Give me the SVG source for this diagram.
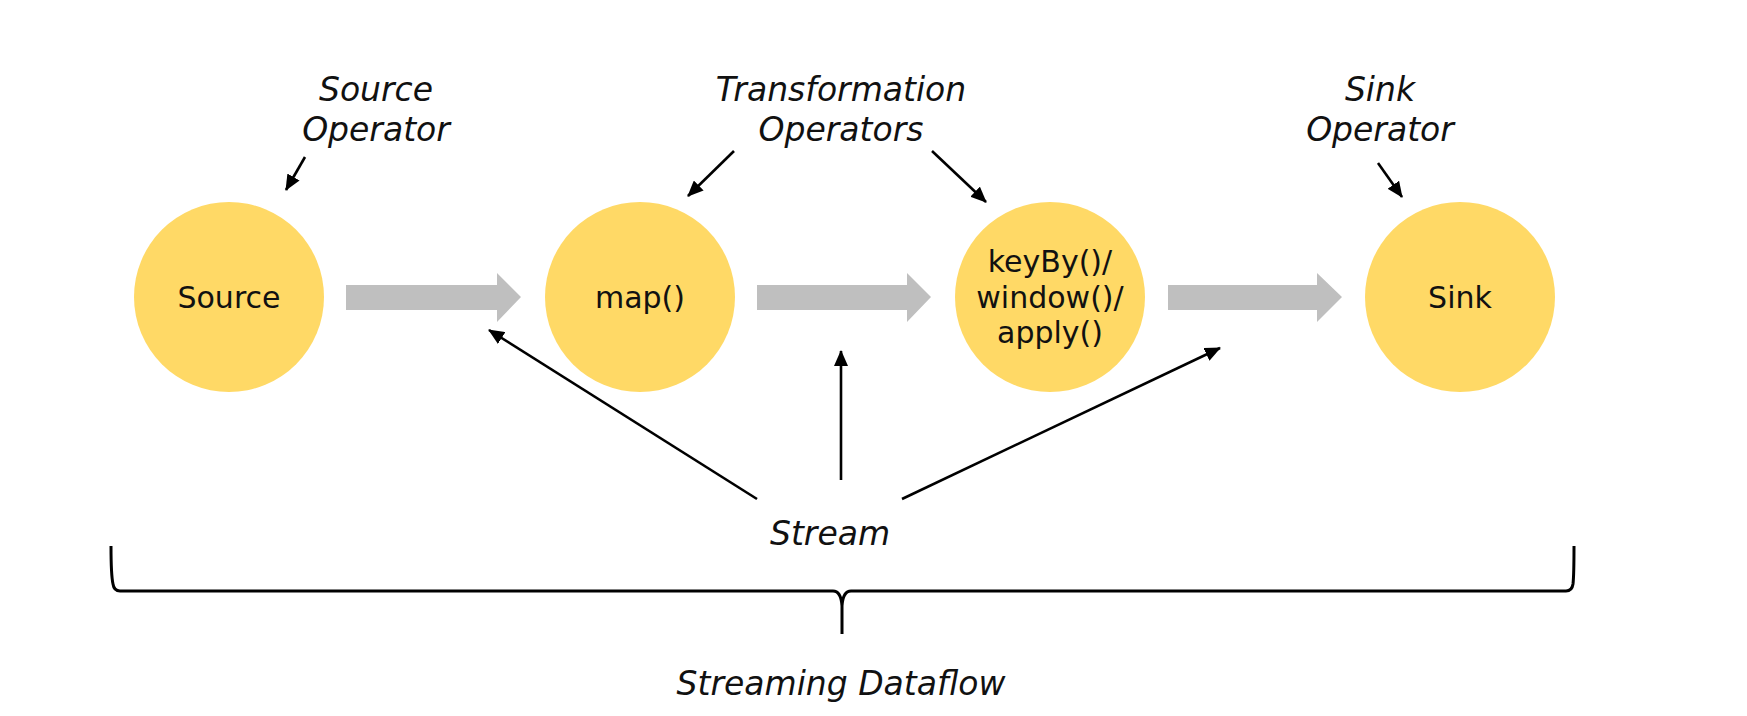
<svg xmlns="http://www.w3.org/2000/svg" width="1747" height="716" viewBox="0 0 1747 716">
<style>
.node{fill:#FFD966;}
.ntext{font-family:"DejaVu Sans",Verdana,sans-serif;font-size:30px;fill:#111;text-anchor:middle;}
.label{font-family:"DejaVu Sans",Verdana,sans-serif;font-size:33px;font-style:italic;fill:#111;text-anchor:middle;}
.flow{fill:#BFBFBF;}
.ptr{stroke:#000;stroke-width:2.6;fill:none;marker-end:url(#ah);}
.brace{stroke:#000;stroke-width:3;fill:none;stroke-linejoin:round;}
</style>
<defs>
<marker id="ah" markerUnits="userSpaceOnUse" markerWidth="16" markerHeight="14" refX="15" refY="7" orient="auto">
<path d="M0,0 L16,7 L0,14 z" fill="#000"/>
</marker>
</defs>
<rect width="1747" height="716" fill="#fff"/>

<g id="source">
<circle class="node" cx="229" cy="297" r="95"/>
<text class="ntext" x="229" y="308">Source</text>
</g>
<g id="map">
<circle class="node" cx="640" cy="297" r="95"/>
<text class="ntext" x="640" y="308">map()</text>
</g>
<g id="keyby">
<circle class="node" cx="1050" cy="297" r="95"/>
<text class="ntext" x="1050" y="272">keyBy()/</text>
<text class="ntext" x="1050" y="308">window()/</text>
<text class="ntext" x="1050" y="343">apply()</text>
</g>
<g id="sink">
<circle class="node" cx="1460" cy="297" r="95"/>
<text class="ntext" x="1460" y="308">Sink</text>
</g>

<g id="label-source">
<text class="label" x="376" y="101">Source</text>
<text class="label" x="376" y="141">Operator</text>
</g>
<g id="label-transformation">
<text class="label" x="841" y="101">Transformation</text>
<text class="label" x="841" y="141">Operators</text>
</g>
<g id="label-sink">
<text class="label" x="1380" y="101">Sink</text>
<text class="label" x="1380" y="141">Operator</text>
</g>
<g id="label-stream">
<text class="label" x="830" y="545">Stream</text>
</g>
<g id="label-dataflow">
<text class="label" x="841" y="695">Streaming Dataflow</text>
</g>

<g id="connectors">
<path class="flow" d="M346,285 H497 V273 L521,297 L497,322 V310 H346 Z"/>
<path class="flow" d="M757,285 H907 V273 L931,297 L907,322 V310 H757 Z"/>
<path class="flow" d="M1168,285 H1317 V273 L1342,297 L1317,322 V310 H1168 Z"/>

<line class="ptr" x1="305" y1="157" x2="286" y2="190"/>
<line class="ptr" x1="734" y1="151" x2="688" y2="196"/>
<line class="ptr" x1="932" y1="151" x2="986" y2="202"/>
<line class="ptr" x1="1378" y1="163" x2="1402" y2="197"/>

<line class="ptr" x1="757" y1="499" x2="489" y2="330"/>
<line class="ptr" x1="841" y1="480" x2="841" y2="351"/>
<line class="ptr" x1="902" y1="499" x2="1220" y2="348"/>

<path class="brace" d="M111,546 Q111,575 113,584 Q114,591 120,591 L833,591 Q841,591 842,606 L842,634 M842,606 Q843,591 851,591 L1566,591 Q1572,591 1573,584 Q1574,575 1574,546"/>
</g>
</svg>
